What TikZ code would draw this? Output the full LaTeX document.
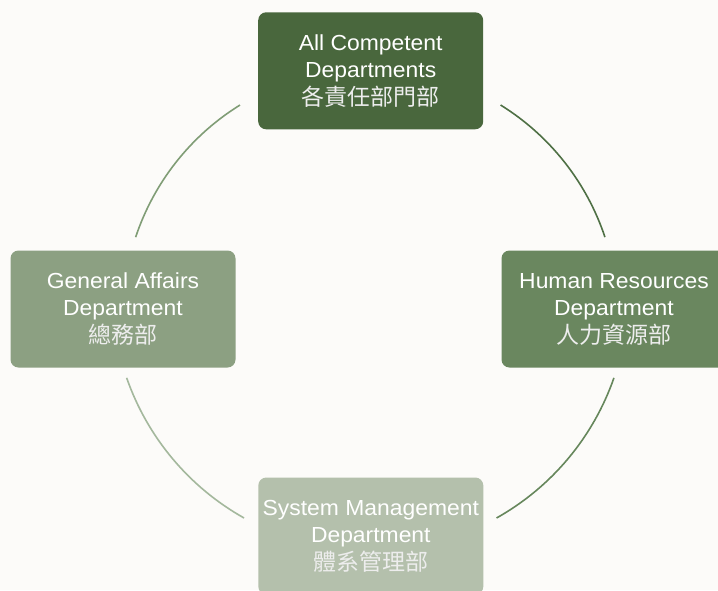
\documentclass[tikz,border=0pt]{standalone}
\usepackage{fontspec}
\setmainfont{Liberation Sans}[FakeStretch=1.05]
\newfontfamily\cjk{Noto Sans CJK TC}
\definecolor{bgpaper}{HTML}{FCFBF9}
\definecolor{deptA}{HTML}{49673D}
\definecolor{deptB}{HTML}{6A875F}
\definecolor{deptC}{HTML}{B4C0AC}
\definecolor{deptD}{HTML}{8CA082}
\definecolor{linkAB}{HTML}{4F7045}
\definecolor{linkBC}{HTML}{66875C}
\definecolor{linkCD}{HTML}{A4B89D}
\definecolor{linkDA}{HTML}{809D76}
\tikzset{
  dept/.style={rounded corners=8pt, minimum width=225pt, minimum height=117pt,
    inner sep=0pt, align=center, text=white,
    font=\fontsize{21.8}{27.5}\selectfont},
  link/.style={line width=1.6pt},
}
\newcommand{\zh}[1]{{\cjk\fontsize{23}{27.5}\selectfont\color{white!86!gray}#1}}
\begin{document}
\begin{tikzpicture}[x=1pt,y=1pt]
  \useasboundingbox (0,0) rectangle (718,-590);
  \fill[bgpaper] (0,0) rectangle (718,-590);
  \clip (0,0) rectangle (718,-590);

  % departments
  \node[dept, fill=deptA] (competent) at (370.7,-70.8)
    {All Competent\\Departments\\\zh{各責任部門部}};
  \node[dept, fill=deptB] (hr) at (614,-309)
    {Human Resources\\Department\\\zh{人力資源部}};
  \node[dept, fill=deptC] (system) at (370.8,-536)
    {System Management\\Department\\\zh{體系管理部}};
  \node[dept, fill=deptD] (general) at (123,-309)
    {General Affairs\\Department\\\zh{總務部}};

  % centres of the connecting arcs
  \coordinate (upper) at (370.3,-315.2);
  \coordinate (lower) at (370.3,-293);

  % cycle of arcs between the departments
  \draw[link, linkAB] ([shift={(58.2:247.3pt)}]upper)
    arc[start angle=58.2, end angle=18.4, radius=247.3pt];
  \draw[link, linkBC] ([shift={(340.8:258pt)}]lower)
    arc[start angle=340.8, end angle=299.3, radius=258pt];
  \draw[link, linkCD] ([shift={(240.7:258pt)}]lower)
    arc[start angle=240.7, end angle=199.2, radius=258pt];
  \draw[link, linkDA] ([shift={(161.6:247.3pt)}]upper)
    arc[start angle=161.6, end angle=121.8, radius=247.3pt];
\end{tikzpicture}
\end{document}
